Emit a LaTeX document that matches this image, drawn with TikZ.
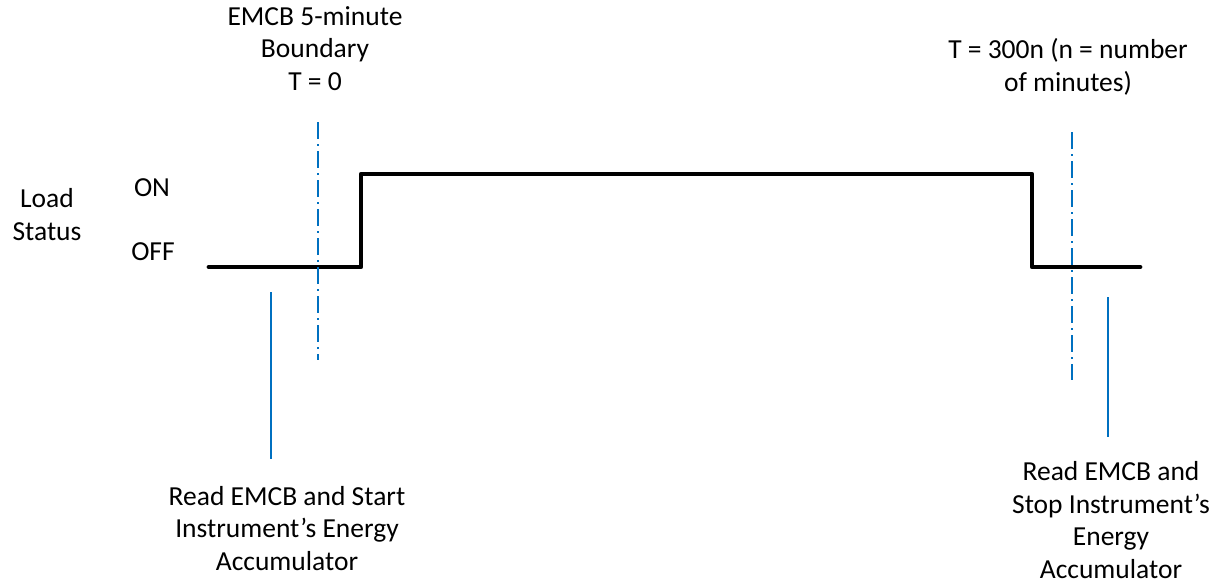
\documentclass[tikz,border=0pt]{standalone}
\usepackage{fontspec}
\setmainfont{Carlito}
\begin{document}
\begin{tikzpicture}[x=1pt,y=-1pt,
  lbl/.style={font=\fontsize{27.5}{32.5}\selectfont, inner sep=0pt, align=center, anchor=base},
  signal/.style={line width=4.8pt, line cap=round, line join=round, black},
  marker/.style={draw=mblue, line width=2pt, dash pattern=on 17pt off 5pt on 2pt off 5pt},
  readline/.style={draw=mblue, line width=1.6pt}]
\definecolor{mblue}{RGB}{0,112,192}
\useasboundingbox (0,0) rectangle (1222,587);

% signal
\coordinate (s0) at (209,267);
\coordinate (s1) at (361,267);
\coordinate (s2) at (361,174);
\coordinate (s3) at (1032,174);
\coordinate (s4) at (1032,267);
\coordinate (s5) at (1140,267);
\draw[signal] (s0) -- (s1) -- (s2) -- (s3) -- (s4) -- (s5);

% boundary markers
\coordinate (b1t) at (318,122);
\coordinate (b1b) at (318,360);
\draw[marker] (b1t) -- (b1b);
\coordinate (b2t) at (1072,132);
\coordinate (b2b) at (1072,380);
\draw[marker] (b2t) -- (b2b);

% read lines
\coordinate (r1t) at (271,292);
\coordinate (r1b) at (271,459);
\draw[readline] (r1t) -- (r1b);
\coordinate (r2t) at (1108,297);
\coordinate (r2b) at (1108,437);
\draw[readline] (r2t) -- (r2b);

% labels (anchored at the baseline of their last line)
\node[lbl] (top1) at (315,90) {EMCB 5-minute\\Boundary\\T = 0};
\node[lbl] (top2) at (1068,91) {T = 300n (n = number\\of minutes)};
\node[lbl] (load) at (47,240) {Load\\Status};
\node[lbl] (on) at (152,196) {ON};
\node[lbl] (off) at (153,260) {OFF};
\node[lbl] (bot1) at (287,570) {Read EMCB and Start\\Instrument’s Energy\\Accumulator};
\node[lbl] (bot2) at (1111,578) {Read EMCB and\\Stop Instrument’s\\Energy\\Accumulator};
\end{tikzpicture}
\end{document}
